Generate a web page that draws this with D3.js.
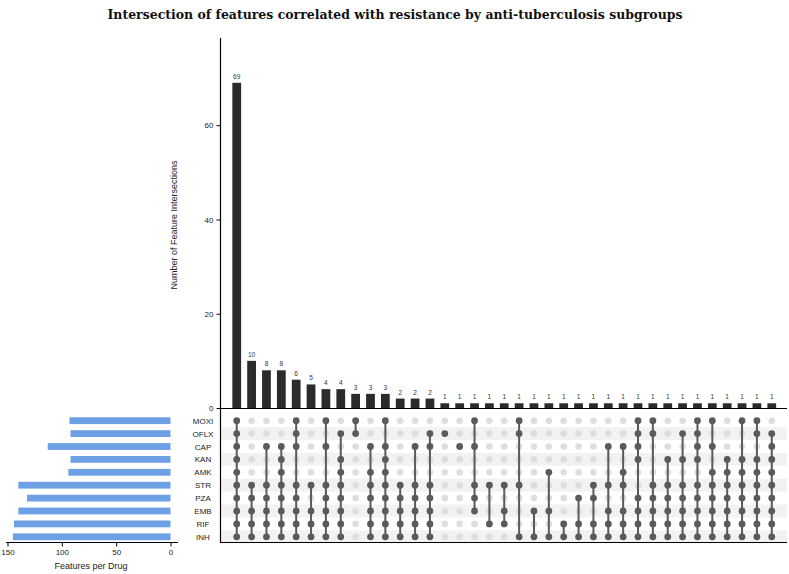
<!DOCTYPE html>
<html><head><meta charset="utf-8">
<script src="https://cdn.jsdelivr.net/npm/d3@7"></script>
<style>body{margin:0;background:#fff}svg{display:block}</style>
</head><body><svg id="c" width="789" height="574"></svg>
<script>
const title = "Intersection of features correlated with resistance by anti-tuberculosis subgroups";
const sets = ["MOXI","OFLX","CAP","KAN","AMK","STR","PZA","EMB","RIF","INH"];
const setSizes = [93, 92, 113, 92, 94, 140, 132, 140, 144, 145];
const intersectionCounts = [69,10,8,8,6,5,4,4,3,3,3,2,2,2,1,1,1,1,1,1,1,1,1,1,1,1,1,1,1,1,1,1,1,1,1,1,1];
const intersectionMembers = [
  "MOXI OFLX CAP KAN AMK STR PZA EMB RIF INH",
  "STR PZA EMB RIF INH",
  "CAP STR PZA EMB RIF INH",
  "CAP KAN AMK STR PZA EMB RIF INH",
  "MOXI OFLX CAP STR PZA EMB RIF INH",
  "STR EMB RIF INH",
  "MOXI CAP STR PZA EMB RIF INH",
  "OFLX KAN AMK STR PZA EMB RIF INH",
  "MOXI OFLX",
  "CAP AMK STR PZA EMB RIF INH",
  "MOXI CAP KAN AMK STR PZA EMB RIF INH",
  "STR PZA EMB RIF INH",
  "CAP STR PZA EMB RIF INH",
  "OFLX CAP STR PZA EMB RIF INH",
  "OFLX",
  "CAP",
  "MOXI CAP STR PZA EMB",
  "STR RIF",
  "STR EMB RIF",
  "MOXI OFLX STR INH",
  "EMB INH",
  "AMK EMB INH",
  "RIF INH",
  "PZA RIF INH",
  "STR PZA RIF INH",
  "CAP STR EMB RIF INH",
  "CAP AMK STR EMB RIF INH",
  "MOXI OFLX CAP KAN PZA EMB RIF INH",
  "MOXI OFLX STR PZA EMB RIF INH",
  "KAN STR PZA EMB RIF INH",
  "OFLX KAN STR PZA EMB RIF INH",
  "MOXI OFLX CAP KAN STR PZA EMB RIF INH",
  "MOXI CAP AMK STR PZA EMB RIF INH",
  "KAN AMK STR PZA EMB RIF INH",
  "MOXI KAN AMK STR PZA EMB RIF INH",
  "MOXI OFLX KAN AMK STR PZA EMB RIF INH",
  "OFLX CAP KAN AMK STR PZA EMB RIF INH"
];
const yTicks = [0, 20, 40, 60];
const xTicks = [0, 50, 100, 150];
const yLabel = "Number of Feature Intersections";
const xLabel = "Features per Drug";

const svg = d3.select("#c");
const sans = "'Liberation Sans', Arial, Helvetica, sans-serif";
const n = intersectionCounts.length;
const cols = d3.range(n);

const x = d3.scaleBand().domain(cols).range([229.3, 779.2]).paddingInner(0.41).paddingOuter(0.205);
const y = d3.scaleLinear().domain([0, 78.5]).range([408, 38]);
const yRow = d3.scaleBand().domain(sets).range([414.25, 543.25]);
const xLeft = d3.scaleLinear().domain([0, 150]).range([170.5, 7.5]);

// title
svg.append("text").attr("x", 395).attr("y", 19).attr("text-anchor", "middle")
  .attr("font-family", "Georgia, 'DejaVu Serif', serif").attr("font-weight", "bold")
  .attr("font-size", 13).attr("fill", "#111").text(title)
  .each(function(){ const w=this.getComputedTextLength(); if (w>0) d3.select(this).attr("textLength",575).attr("lengthAdjust","spacingAndGlyphs"); });

// matrix row shading
svg.append("g").selectAll("rect").data(sets.filter((s,i)=>i%2===1)).join("rect")
  .attr("x", 221).attr("y", s=>yRow(s)).attr("width", 566).attr("height", yRow.bandwidth())
  .attr("fill", "#f2f2f2");

// bars
svg.append("g").selectAll("rect").data(cols).join("rect")
  .attr("x", i=>x(i)).attr("y", i=>y(intersectionCounts[i]))
  .attr("width", x.bandwidth()).attr("height", i=>y(0)-y(intersectionCounts[i]))
  .attr("fill", "#2b2b2b");
svg.append("g").selectAll("text").data(cols).join("text")
  .attr("x", i=>x(i)+x.bandwidth()/2).attr("y", i=>y(intersectionCounts[i])-4)
  .attr("text-anchor","middle").attr("font-family", sans).attr("font-size", 6.5).attr("fill","#333")
  .text(i=>intersectionCounts[i]);

// top y axis
const ya = svg.append("g").attr("transform","translate(220.5,0)")
  .call(d3.axisLeft(y).tickValues(yTicks).tickSize(4).tickSizeOuter(0));
ya.select(".domain").remove();
ya.selectAll("text").attr("font-family", sans).attr("font-size", 8).attr("fill","#222");
ya.selectAll("line").attr("stroke","#000");
svg.append("line").attr("x1",220.5).attr("x2",220.5).attr("y1",38).attr("y2",542.5).attr("stroke","#000").attr("stroke-width",1.2);
svg.append("line").attr("x1",220).attr("x2",787).attr("y1",408.5).attr("y2",408.5).attr("stroke","#000").attr("stroke-width",1.2);
svg.append("line").attr("x1",220).attr("x2",787).attr("y1",542.5).attr("y2",542.5).attr("stroke","#000").attr("stroke-width",1.2);
svg.append("text").attr("transform","translate(177,225) rotate(-90)").attr("text-anchor","middle")
  .attr("font-family", sans).attr("font-size", 9).attr("fill","#222").text(yLabel);

// matrix dots
const mg = svg.append("g");
cols.forEach(i=>{
  const mem = intersectionMembers[i].split(" ");
  const cx = x(i)+x.bandwidth()/2;
  sets.forEach(s=>{
    if (!mem.includes(s)) mg.append("circle").attr("cx",cx).attr("cy",yRow(s)+yRow.bandwidth()/2).attr("r",3.3).attr("fill","#dedede");
  });
  const ys = mem.map(s=>yRow(s)+yRow.bandwidth()/2);
  if (ys.length>1) mg.append("line").attr("x1",cx).attr("x2",cx).attr("y1",d3.min(ys)).attr("y2",d3.max(ys)).attr("stroke","#5a5a5a").attr("stroke-width",2);
  mem.forEach(s=>{
    mg.append("circle").attr("cx",cx).attr("cy",yRow(s)+yRow.bandwidth()/2).attr("r",3.4).attr("fill","#5a5a5a");
  });
});

// row labels
svg.append("g").selectAll("text").data(sets).join("text")
  .attr("x", 203).attr("y", s=>yRow(s)+yRow.bandwidth()/2+3)
  .attr("text-anchor","middle").attr("font-family", sans).attr("font-size", 8).attr("fill","#222").text(s=>s);

// left bars
svg.append("g").selectAll("rect").data(sets).join("rect")
  .attr("x", (s,i)=>xLeft(setSizes[i])).attr("y", s=>yRow(s)+yRow.bandwidth()/2-3.4)
  .attr("width", (s,i)=>xLeft(0)-xLeft(setSizes[i])).attr("height", 6.8)
  .attr("fill", "#6da0e4");
const xa = svg.append("g").attr("transform","translate(0,542.5)")
  .call(d3.axisBottom(xLeft).tickValues(xTicks).tickSize(4).tickSizeOuter(0));
xa.select(".domain").attr("d","M6,0H178").attr("stroke","#000");
xa.selectAll("text").attr("font-family", sans).attr("font-size", 8).attr("fill","#222");
svg.append("text").attr("x", 91).attr("y", 569).attr("text-anchor","middle")
  .attr("font-family", sans).attr("font-size", 9).attr("fill","#222").text(xLabel);
</script></body></html>
